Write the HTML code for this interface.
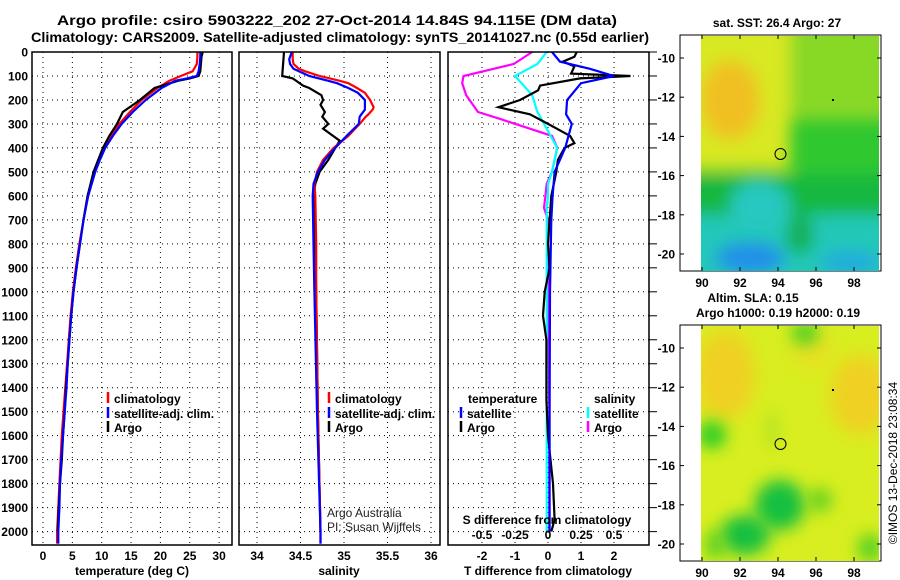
<!DOCTYPE html>
<html><head><meta charset="utf-8"><style>
html,body{margin:0;padding:0;background:#fff;}
svg{display:block;font-family:"Liberation Sans",sans-serif;}
.b{font-weight:bold;font-size:12px;fill:#000;}
</style></head><body>
<svg id="chart" width="900" height="580" viewBox="0 0 900 580" xmlns="http://www.w3.org/2000/svg">
<defs>
<filter id="bl" filterUnits="userSpaceOnUse" x="600" y="0" width="300" height="580"><feGaussianBlur stdDeviation="9"/></filter>
<filter id="bl2" filterUnits="userSpaceOnUse" x="600" y="0" width="300" height="580"><feGaussianBlur stdDeviation="8"/></filter>
<clipPath id="c1"><rect x="701" y="36" width="178" height="235"/></clipPath>
<clipPath id="c2"><rect x="701" y="326" width="178" height="235"/></clipPath>
</defs>
<text x="337" y="25" text-anchor="middle" font-weight="bold" font-size="14" textLength="560" lengthAdjust="spacingAndGlyphs">Argo profile: csiro 5903222_202 27-Oct-2014 14.84S 94.115E (DM data)</text>
<text x="340" y="42" text-anchor="middle" font-weight="bold" font-size="14" textLength="618" lengthAdjust="spacingAndGlyphs">Climatology: CARS2009. Satellite-adjusted climatology: synTS_20141027.nc (0.55d earlier)</text>

<g>
<rect x="680" y="35" width="201" height="236" fill="#fff" stroke="#000"/>
<g clip-path="url(#c1)">
<rect x="701" y="36" width="178" height="235" fill="#30c830"/>
<g filter="url(#bl2)">
<rect x="780" y="20" width="120" height="100" fill="#88d828"/>
<rect x="680" y="20" width="110" height="150" fill="#d8e820"/>
<ellipse cx="730" cy="100" rx="30" ry="40" fill="#f0c020"/>
<rect x="680" y="175" width="220" height="40" fill="#18b840"/>
<rect x="680" y="215" width="220" height="70" fill="#20c8b8"/>
<ellipse cx="760" cy="205" rx="30" ry="25" fill="#28c8c0"/>
<ellipse cx="800" cy="235" rx="14" ry="20" fill="#18b050"/>
<ellipse cx="750" cy="258" rx="35" ry="16" fill="#2090e8"/>
<ellipse cx="850" cy="262" rx="30" ry="10" fill="#20a8e0"/>
</g>
</g>
<circle cx="780.5" cy="154" r="5.5" fill="none" stroke="#000" stroke-width="1"/>
<rect x="832" y="99" width="2" height="2" fill="#000"/>
</g>
<g>
<rect x="680" y="325" width="201" height="236" fill="#fff" stroke="#000"/>
<g clip-path="url(#c2)">
<rect x="701" y="326" width="178" height="235" fill="#d8ee20"/>
<ellipse cx="725" cy="375" rx="30" ry="45" fill="#f0d020" filter="url(#bl)"/>
<ellipse cx="860" cy="395" rx="30" ry="40" fill="#f0d020" filter="url(#bl)"/>
<ellipse cx="812" cy="350" rx="20" ry="20" fill="#e8e020" filter="url(#bl)"/>
<ellipse cx="805" cy="333" rx="14" ry="12" fill="#50d020" filter="url(#bl2)"/>
<ellipse cx="712" cy="435" rx="14" ry="14" fill="#28cc28" filter="url(#bl2)"/>
<ellipse cx="772" cy="430" rx="5" ry="20" fill="#a8e020" filter="url(#bl2)"/>
<ellipse cx="780" cy="505" rx="25" ry="25" fill="#18c040" filter="url(#bl2)"/>
<ellipse cx="745" cy="535" rx="25" ry="20" fill="#18c040" filter="url(#bl2)"/>
<ellipse cx="820" cy="500" rx="12" ry="12" fill="#60d020" filter="url(#bl2)"/>
<ellipse cx="715" cy="545" rx="10" ry="15" fill="#58d020" filter="url(#bl2)"/>
<ellipse cx="870" cy="548" rx="12" ry="14" fill="#50d020" filter="url(#bl2)"/>
</g>
<circle cx="780.5" cy="444" r="5.5" fill="none" stroke="#000" stroke-width="1"/>
<rect x="832" y="389" width="2" height="2" fill="#000"/>
</g>
<text class="b" x="777" y="27" text-anchor="middle">sat. SST: 26.4 Argo: 27</text>
<text class="b" x="753" y="302" text-anchor="middle">Altim. SLA: 0.15</text>
<text class="b" x="778" y="317" text-anchor="middle">Argo h1000: 0.19 h2000: 0.19</text>
<text transform="translate(897,463) rotate(-90)" text-anchor="middle" font-size="12">©IMOS 13-Dec-2018 23:08:34</text>

<g id="plots"></g>

<text class="b" x="132" y="575" text-anchor="middle">temperature (deg C)</text>
<text class="b" x="339" y="575" text-anchor="middle">salinity</text>
<text class="b" x="548" y="575" text-anchor="middle">T difference from climatology</text>
<text class="b" x="547" y="524" text-anchor="middle">S difference from climatology</text>
<text x="327" y="517" font-size="12" fill="#222">Argo Australia</text>
<text x="327" y="531" font-size="12" fill="#222">PI: Susan Wijffels</text>
</svg>
<script>
const depthsT = [0,20,50,80,100,110,120,150,200,250,300,350,400,450,500,600,700,800,900,1000,1100,1200,1300,1400,1500,1600,1700,1800,1900,2000,2050];
const tempClim = [26.3,26.3,26.2,25.5,23.5,22.5,21.5,19.5,16.8,14.8,13.0,11.6,10.4,9.6,8.8,7.6,6.9,6.2,5.6,5.1,4.7,4.4,4.1,3.8,3.5,3.2,3.0,2.8,2.6,2.4,2.4];
const tempSat = [26.8,26.8,26.7,26.5,26.2,24.5,22.5,20.2,17.5,15.3,13.4,11.9,10.6,9.7,8.9,7.7,6.9,6.3,5.7,5.2,4.8,4.5,4.2,4.0,3.7,3.4,3.1,2.9,2.8,2.6,2.6];
const depthsA = [0,20,50,80,100,110,120,150,200,250,300,350,400,450,500,600,700,800,900,1000,1100,1200,1300,1400,1500,1600,1700,1800,1900,2000];
const tempArgo = [27.2,27.0,26.9,26.8,26.5,25,23,19.0,16.5,13.6,12.6,11.3,10.2,9.4,8.6,7.6,6.9,6.3,5.7,5.2,4.8,4.5,4.2,3.9,3.7,3.4,3.2,2.9,2.7,2.5];

const depthsS = [0,30,50,70,80,100,120,130,150,170,200,230,240,260,270,300,350,400,450,500,550,600,800,1000,1500,2000,2050];
const salClim = [34.41,34.41,34.42,34.48,34.55,34.72,34.95,35.05,35.15,35.24,35.30,35.34,35.33,35.28,35.25,35.18,35.05,34.88,34.76,34.69,34.66,34.67,34.68,34.68,34.70,34.73,34.73];
const salSat = [34.40,34.37,34.38,34.42,34.48,34.60,34.82,34.92,35.05,35.16,35.24,35.24,35.24,35.20,35.18,35.17,35.03,34.90,34.78,34.70,34.65,34.64,34.65,34.66,34.69,34.73,34.73];
const depthsSA = [0,100,105,110,140,150,180,200,220,250,270,300,320,370,400,450,500,550,600,700,800,1000,1500,2000];
const salArgo = [34.31,34.29,34.35,34.41,34.53,34.60,34.74,34.76,34.73,34.78,34.75,34.82,34.76,34.95,34.90,34.82,34.72,34.67,34.65,34.66,34.67,34.68,34.70,34.73];

const depthsD = [0,20,40,60,90,100,110,140,160,200,230,260,300,350,380,400,450,500,600,700,800,900,1000,1100,1200,1450,1600,1800,1950,2000];
const tDiffArgo = [0.87,0.8,0.45,0.8,0.7,2.5,0.97,-0.24,-0.3,-0.85,-1.5,-0.55,0.0,0.67,0.8,0.5,0.3,0.25,0.1,0.05,0.0,0.05,-0.1,-0.15,-0.05,-0.05,0.0,0.15,0.2,0.1];
const depthsDS = [0,40,70,100,130,200,260,300,400,500,600,700,1000,1500,2000];
const tDiffSat = [0.12,0.36,1.27,2.0,1.0,0.58,0.55,0.72,0.52,0.2,0.14,0.1,0.06,0.05,0.05];
const depthsSD = [0,50,100,130,180,250,280,350,400,500,550,600,650,700,1000,1500,2000];
const sDiffArgo = [-0.12,-0.26,-0.64,-0.65,-0.62,-0.53,-0.36,0.03,0.07,0.03,-0.01,-0.02,-0.03,0.0,0.0,0.01,0.01];
const sDiffSat = [-0.01,-0.08,-0.25,-0.2,-0.12,-0.08,-0.05,0.02,0.07,0.03,0.0,0.0,-0.01,-0.01,-0.01,-0.01,-0.01];

const depthTicks = [0,100,200,300,400,500,600,700,800,900,1000,1100,1200,1300,1400,1500,1600,1700,1800,1900,2000];
const tempTicks = [0,5,10,15,20,25,30];
const salTicks = [34,34.5,35,35.5,36];
const salTickLabels = ["34","34.5","35","35.5","36"];
const tDiffTicks = [-2,-1,0,1,2];
const sDiffTicks = [-0.5,-0.25,0,0.25,0.5];
const lonTicks = [90,92,94,96,98];
const latTicks = [-10,-12,-14,-16,-18,-20];

const NS="http://www.w3.org/2000/svg";
const root=document.getElementById('plots');
const yD=d=>52+0.2398*d;
const xT=v=>43+5.87*v;
const xS=v=>257+87*(v-34);
const xTD=v=>548+33*v;
const xSD=v=>548+132*v;
const Y0=52,Y1=545;
function mk(tag,attrs,parent){const e=document.createElementNS(NS,tag);for(const k in attrs)e.setAttribute(k,attrs[k]);(parent||root).appendChild(e);return e;}
function grid(x0,x1,xs,fx){
  depthTicks.forEach(d=>{const l=mk('line',{x1:x0,x2:x1,y1:yD(d),y2:yD(d),stroke:'#000','stroke-width':1,'stroke-dasharray':'1,4'});
    
    });
  xs.forEach(v=>{const l=mk('line',{x1:fx(v),x2:fx(v),y1:Y0,y2:Y1,stroke:'#000','stroke-width':1,'stroke-dasharray':'1,4'});
    
    });
}
function frame(x0,x1,name){const r=mk('rect',{x:x0,y:Y0,width:x1-x0,height:Y1-Y0,fill:'none',stroke:'#000','stroke-width':1.5});
  
  }
function line(ds,vs,f,color,name){const pts=ds.map((d,i)=>f(vs[i]).toFixed(1)+','+yD(d).toFixed(1)).join(' ');
  const p=mk('polyline',{points:pts,fill:'none',stroke:color,'stroke-width':2.2,'stroke-linejoin':'miter'});
  
  }
function txt(x,y,s,anchor,name){const t=mk('text',{x:x,y:y,'text-anchor':anchor||'start',class:'b'});t.textContent=s;
  
  return t;}
function legend(x,y,color,label,name){const l=mk('line',{x1:x,x2:x,y1:y-11,y2:y,stroke:color,'stroke-width':2.5});
  
  
  txt(x+6,y,label,'start',name);}

grid(32,232,tempTicks,xT);
grid(239,440,salTicks,xS);
grid(448,649,tDiffTicks,xTD);

line(depthsT,tempClim,xT,'#ff0000','temp-climatology-line');
line(depthsA,tempArgo,xT,'#000000','temp-argo-line');
line(depthsT,tempSat,xT,'#0000ff','temp-satellite-line');
line(depthsSA,salArgo,xS,'#000000','sal-argo-line');
line(depthsS,salClim,xS,'#ff0000','sal-climatology-line');
line(depthsS,salSat,xS,'#0000ff','sal-satellite-line');
line(depthsSD,sDiffArgo,xSD,'#ff00ff','sdiff-argo-line');
line(depthsSD,sDiffSat,xSD,'#00ffff','sdiff-satellite-line');
line(depthsD,tDiffArgo,xTD,'#000000','tdiff-argo-line');
line(depthsDS,tDiffSat,xTD,'#0000ff','tdiff-satellite-line');

frame(32,232,'temperature-panel');
frame(239,440,'salinity-panel');
frame(448,649,'difference-panel');

depthTicks.forEach(d=>txt(28,yD(d)+4.5,String(d),'end','depth-tick-label'));
depthTicks.forEach(d=>{const l=mk('line',{x1:649,x2:657,y1:yD(d),y2:yD(d),stroke:'#000','stroke-width':1});
  
  });
tempTicks.forEach(v=>txt(xT(v),560,String(v),'middle','temp-tick-label'));
salTicks.forEach((v,i)=>txt(xS(v),560,salTickLabels[i],'middle','sal-tick-label'));
tDiffTicks.forEach(v=>txt(xTD(v),560,v<0?'-'+Math.abs(v):String(v),'middle','tdiff-tick-label'));
sDiffTicks.forEach(v=>txt(xSD(v),539,v<0?'-'+Math.abs(v):String(v),'middle','sdiff-tick-label'));

legend(108,403,'#ff0000','climatology','legend-climatology');
legend(108,418,'#0000ff','satellite-adj. clim.','legend-satellite-adj');
legend(108,432,'#000000','Argo','legend-argo');
legend(329,403,'#ff0000','climatology','sal-legend-climatology');
legend(329,418,'#0000ff','satellite-adj. clim.','sal-legend-satellite-adj');
legend(329,432,'#000000','Argo','sal-legend-argo');
txt(468,403,'temperature','start','legend-temperature-heading');
txt(594,403,'salinity','start','legend-salinity-heading');
legend(461,418,'#0000ff','satellite','legend-t-satellite');
legend(461,432,'#000000','Argo','legend-t-argo');
legend(588,418,'#00ffff','satellite','legend-s-satellite');
legend(588,432,'#ff00ff','Argo','legend-s-argo');

const lonX=v=>702+19*(v-90);
[[58,254,271,'sst'],[348,544,561,'sla']].forEach(([y10,y20,yb,nm])=>{
  const latY=v=>y10+(y20-y10)*(-10-v)/10;
  latTicks.forEach(v=>{txt(675,latY(v)+4.5,String(v),'end',nm+'-lat-label');
    for(const xx of [[680,684],[877,881]]){const l=mk('line',{x1:xx[0],x2:xx[1],y1:latY(v),y2:latY(v),stroke:'#000'});
      
      }});
  lonTicks.forEach(v=>{txt(lonX(v),yb+16,String(v),'middle',nm+'-lon-label');
    for(const yy of [[yb-4,yb],[yb-236,yb-232]]){const l=mk('line',{x1:lonX(v),x2:lonX(v),y1:yy[0],y2:yy[1],stroke:'#000'});
      
      }});
});
</script>
</body></html>
